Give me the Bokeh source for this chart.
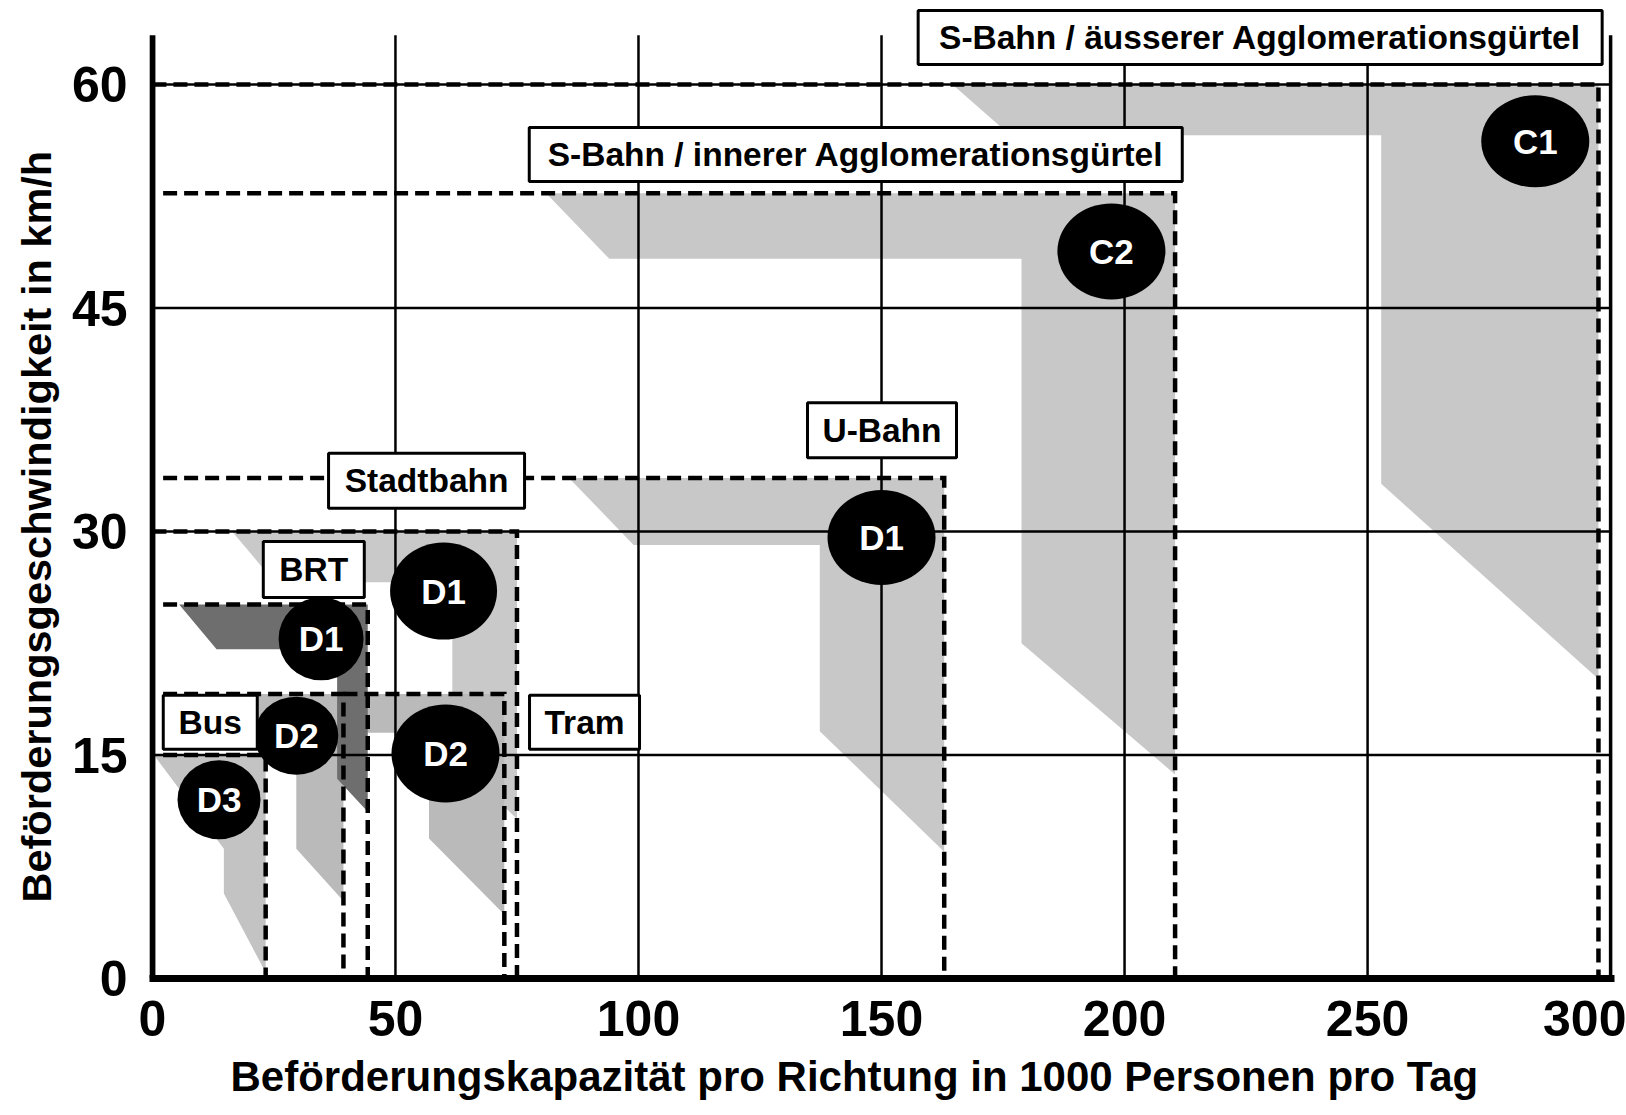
from bokeh.plotting import figure
from bokeh.models import Range1d, FixedTicker, Title
from bokeh.core.properties import value
from bokeh.embed import file_html
from bokeh.resources import INLINE

# ---------------- data ----------------
x_ticks = [0, 50, 100, 150, 200, 250, 300]
y_ticks = [0, 15, 30, 45, 60]
x_title = "Beförderungskapazität pro Richtung in 1000 Personen pro Tag"
y_title = "Beförderungsgeschwindigkeit in km/h"

# envelopes of the modes (dashed boundary): max capacity, max speed, start of top line
env_name = ["S-Bahn aeusserer", "S-Bahn innerer", "U-Bahn", "Stadtbahn", "BRT", "Bus D2", "Tram", "Bus D3"]
env_cap = [297.5, 210.4, 162.9, 75.0, 44.3, 39.3, 72.4, 23.3]
env_speed = [60.0, 52.7, 33.6, 30.0, 25.1, 19.1, 19.1, 15.0]
env_start = [0.0, 2.2, 2.2, 0.0, 2.2, 2.2, 39.3, 2.2]

# shaded operating zones (capacity, speed)
zone_name = ["C1", "C2", "U-Bahn D1", "Stadtbahn D1", "Bus D3", "Bus D2", "Tram D2", "BRT D1"]
zone_cap = [
    [164.6, 297.5, 297.5, 252.8, 252.8, 176.5],
    [81.0, 210.4, 210.4, 178.8, 178.8, 94.0],
    [85.7, 162.9, 162.9, 137.3, 137.3, 99.0],
    [16.4, 75.0, 75.0, 61.7, 61.7, 25.2],
    [0.3, 23.3, 23.3, 14.7, 14.7],
    [3.0, 39.3, 39.3, 29.6, 29.6, 6.0],
    [39.3, 72.4, 72.4, 56.9, 56.9, 39.3],
    [5.5, 44.3, 44.3, 38.0, 38.0, 13.2],
]
zone_speed = [
    [60.0, 60.0, 20.1, 33.2, 56.6, 56.6],
    [52.7, 52.7, 13.7, 22.5, 48.3, 48.3],
    [33.6, 33.6, 8.5, 16.6, 29.1, 29.1],
    [30.0, 30.0, 10.7, 15.0, 26.6, 26.6],
    [15.0, 15.0, 0.4, 5.7, 8.7],
    [19.1, 19.1, 5.2, 8.7, 15.9, 15.9],
    [19.1, 19.1, 4.3, 9.4, 16.5, 16.5],
    [25.1, 25.1, 11.2, 13.4, 22.1, 22.1],
]

# separation-class markers
mark_label = ["C1", "C2", "D1", "D1", "D2", "D1", "D2", "D3"]
mark_cap = [284.5, 197.3, 150.0, 59.9, 60.3, 34.7, 29.6, 13.7]
mark_speed = [56.2, 48.8, 29.6, 26.0, 15.1, 22.8, 16.3, 12.0]

# mode labels
mode_label = ["S-Bahn / äusserer Agglomerationsgürtel", "S-Bahn / innerer Agglomerationsgürtel",
              "U-Bahn", "Stadtbahn", "BRT", "Bus", "Tram"]

# ---------------- layout / style ----------------
label_pos_x = [227.9, 144.7, 150.1, 56.4, 33.2, 11.9, 88.9]
label_pos_y = [63.15, 55.3, 36.8, 33.4, 27.45, 17.2, 17.2]
label_w = [684, 653, 149, 196, 101, 94, 110]
label_h = [54, 54, 55, 55, 56, 54, 54]

mark_w = [108, 108, 108, 107, 108, 85, 84, 83]
mark_h = [92, 96, 95, 97, 98, 83, 78, 79]

zone_color = ["#c8c8c8", "#c8c8c8", "#c8c8c8", "#c9c9c9", "#c3c3c3", "#bababa", "#bababa", "#6e6e6e"]

FONT = "Liberation Sans"
GRID_TOP = 63.3

p = figure(width=1626, height=1115,
           x_range=Range1d(-0.6, 300.8), y_range=Range1d(0, 65.64),
           output_backend="svg", toolbar_location=None,
           min_border_left=149, min_border_right=12, min_border_top=0, min_border_bottom=137)
p.outline_line_color = None
p.grid.visible = False
p.background_fill_color = "white"
p.border_fill_color = "white"

# zones
p.patches(zone_cap, zone_speed, fill_color=zone_color, line_color=None)

# grid
vx = x_ticks[1:-1]
p.segment(x0=vx, y0=[0] * len(vx), x1=vx, y1=[GRID_TOP] * len(vx), line_color="black", line_width=2.5)
hy = y_ticks[1:]
p.segment(x0=[0] * len(hy), y0=hy, x1=[x_ticks[-1]] * len(hy), y1=hy, line_color="black", line_width=2.5)
# right frame and left axis line
p.segment(x0=[x_ticks[-1]], y0=[0], x1=[x_ticks[-1]], y1=[GRID_TOP], line_color="black", line_width=3.5)
p.segment(x0=[0], y0=[0], x1=[0], y1=[GRID_TOP], line_color="black", line_width=6)

# dashed envelopes
dxs = [[s, c, c] for s, c in zip(env_start, env_cap)]
dys = [[v, v, 0] for v in env_speed]
p.multi_line(dxs, dys, line_color="black", line_width=4.5, line_dash="14 7", line_join="miter")

# markers
p.ellipse(x=mark_cap, y=mark_speed, width=mark_w, height=mark_h,
          width_units="screen", height_units="screen", fill_color="black", line_color=None)
p.text(x=mark_cap, y=mark_speed, text=mark_label, text_color="white",
       text_font=value(FONT), text_font_style="bold", text_font_size="35px",
       text_align="center", text_baseline="middle")

# mode label boxes
p.rect(x=label_pos_x, y=label_pos_y, width=label_w, height=label_h,
       width_units="screen", height_units="screen", fill_color="white",
       line_color="black", line_width=3)
p.text(x=label_pos_x, y=label_pos_y, text=mode_label, text_color="black",
       text_font=value(FONT), text_font_style="bold", text_font_size="33.5px",
       text_align="center", text_baseline="middle")

# axes
p.xaxis.ticker = FixedTicker(ticks=x_ticks)
p.yaxis.ticker = FixedTicker(ticks=y_ticks)
for ax in (p.xaxis[0], p.yaxis[0]):
    ax.major_tick_line_color = None
    ax.minor_tick_line_color = None
    ax.major_tick_in = 0
    ax.major_tick_out = 0
    ax.major_label_text_font = FONT
    ax.major_label_text_font_style = "bold"
    ax.major_label_text_font_size = "50px"
    ax.major_label_text_color = "black"
p.yaxis.axis_line_color = None
p.xaxis.axis_line_color = "black"
p.xaxis.axis_line_width = 7
p.xaxis.major_label_standoff = 22
p.yaxis.major_label_standoff = 22

p.add_layout(Title(text=x_title, align="left", offset=81, standoff=25,
                   text_font=FONT, text_font_style="bold", text_font_size="42px",
                   text_color="black"), "below")
p.add_layout(Title(text=y_title, align="left", offset=76, standoff=17,
                   text_font=FONT, text_font_style="bold", text_font_size="41.5px",
                   text_color="black"), "left")

open("out.html", "w").write(file_html(p, INLINE))
